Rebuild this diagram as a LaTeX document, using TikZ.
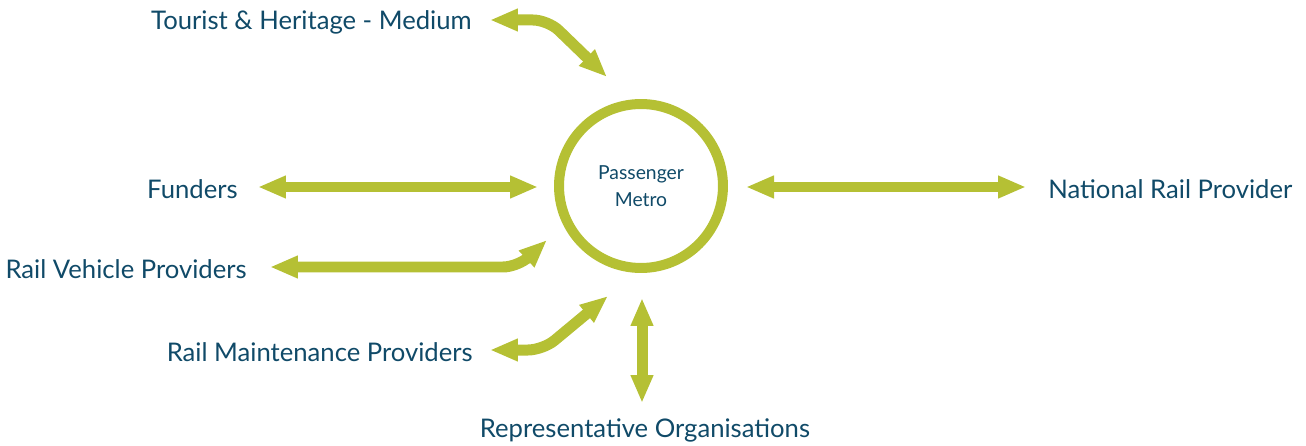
\documentclass[tikz,border=0pt]{standalone}
\usepackage{fontspec}
\setmainfont{Lato}
\usepackage{tikz}
\usetikzlibrary{arrows.meta}
\definecolor{linkgreen}{RGB}{181,192,52}
\definecolor{labelblue}{RGB}{16,74,104}
\tikzset{
  party/.style={text=labelblue, font=\fontsize{14.6}{17}\selectfont, inner sep=0pt},
  link/.style={draw=linkgreen, line width=0.22cm, rounded corners=0.3cm,
    {Triangle[width=0.42cm,length=0.56cm]}-{Triangle[width=0.42cm,length=0.56cm]}}
}
\begin{document}
\begin{tikzpicture}[x=0.02cm, y=-0.02cm]
            \useasboundingbox (0,0) rectangle (1306,446);
            \node[circle, draw=linkgreen, line width=0.2cm, minimum size=3.28cm, text=labelblue,
              align=center, font=\fontsize{11}{15.3}\selectfont] (M) at (641,186) {Passenger\\Metro};
            \node[party, anchor=east] (T) at (472,22) {Tourist \& Heritage - Medium};
            \node[party, anchor=east] (F) at (238,189) {Funders};
            \node[party, anchor=east] (V) at (247,269) {Rail Vehicle Providers};
            \node[party, anchor=east] (R) at (473,352) {Rail Maintenance Providers};
            \node[party] (O) at (645,430) {Representative Organisations};
            \node[party, anchor=west] (N) at (1048,189) {National Rail Provider};
            \coordinate (t1) at (490,20);  \coordinate (t2) at (607,77);
            \coordinate (f1) at (258,187); \coordinate (f2) at (538,187);
            \coordinate (v1) at (270,267); \coordinate (v2) at (547,240);
            \coordinate (r1) at (490,350); \coordinate (r2) at (608,296);
            \coordinate (o1) at (642,298); \coordinate (o2) at (642,403);
            \coordinate (n1) at (746,187); \coordinate (n2) at (1026,187);
            \path[link] (t1) -- (548,20) -- (t2);
            \path[link] (f1) -- (f2);
            \path[link] (v1) -- (518,267) -- (v2);
            \path[link] (r1) -- (543,350) -- (r2);
            \path[link] (o1) -- (o2);
            \path[link] (n1) -- (n2);
        \end{tikzpicture}
\end{document}
